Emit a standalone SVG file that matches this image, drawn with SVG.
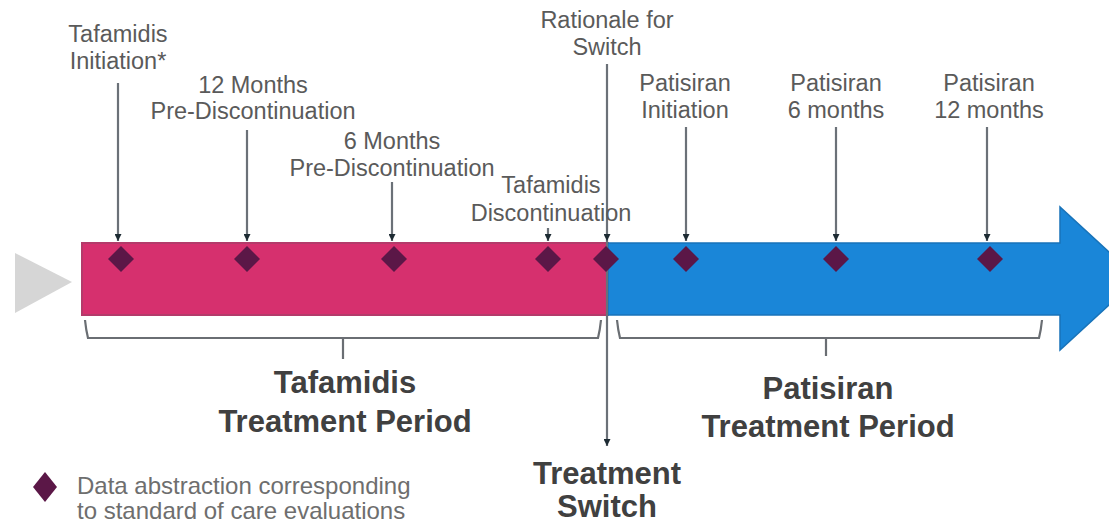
<svg xmlns="http://www.w3.org/2000/svg" width="1109" height="524" viewBox="0 0 1109 524">
<defs>
<style>
.lbl{font-family:"Liberation Sans",Arial,sans-serif;font-size:23.5px;fill:#5a5a5a;text-anchor:middle}
.big{font-family:"Liberation Sans",Arial,sans-serif;font-size:31px;font-weight:bold;fill:#404040;text-anchor:middle}
.leg{font-family:"Liberation Sans",Arial,sans-serif;font-size:24px;fill:#6e6e6e}
.pin{stroke:#6b7178;stroke-width:2.2;fill:none}
.br{stroke:#6a6e73;stroke-width:2.2;fill:none}
.dia{fill:#5b1747}
</style>
<marker id="ah" viewBox="0 0 10 10" refX="10" refY="5" markerWidth="7" markerHeight="7" markerUnits="userSpaceOnUse" orient="auto">
<path d="M0,0 L10,5 L0,10 Z" fill="#1d2b33"/>
</marker>
<path id="d" d="M0,-13 L13,0 L0,13 L-13,0 Z"/>
</defs>
<rect width="1109" height="524" fill="#ffffff"/>

<g id="start-triangle"><polygon points="15,253 72,282 15,313" fill="#d6d6d6"/></g>
<g id="tafamidis-bar"><rect x="82" y="243" width="526" height="72" fill="#d6306e" stroke="#b43a6a" stroke-width="2"/></g>
<g id="patisiran-arrow"><polygon points="608,243 1060,243 1060,207 1138,278.5 1060,350 1060,315 608,315" fill="#1a86d8" stroke="#1873b9" stroke-width="1.5"/></g>

<g id="connectors">
<line class="pin" x1="118" y1="83" x2="118" y2="241" marker-end="url(#ah)"/>
<line class="pin" x1="247" y1="130" x2="247" y2="241" marker-end="url(#ah)"/>
<line class="pin" x1="392" y1="182" x2="392" y2="241" marker-end="url(#ah)"/>
<line class="pin" x1="548" y1="228" x2="548" y2="241" marker-end="url(#ah)"/>
<line class="pin" x1="607" y1="64" x2="607" y2="241" marker-end="url(#ah)"/>
<line class="pin" x1="607" y1="241" x2="607" y2="446" marker-end="url(#ah)"/>
<line class="pin" x1="686" y1="127" x2="686" y2="241" marker-end="url(#ah)"/>
<line class="pin" x1="836" y1="127" x2="836" y2="241" marker-end="url(#ah)"/>
<line class="pin" x1="987" y1="127" x2="987" y2="241" marker-end="url(#ah)"/>
</g>

<g id="brackets">
<path class="br" d="M85,320 Q86,330 88,338 L598,338 Q600,330 601,320 M343,338 L343,359"/>
<path class="br" d="M617,320 Q618,330 620,338 L1039,338 Q1041,330 1042,320 M826,338 L826,356"/>
</g>

<g id="markers">
<use href="#d" class="dia" x="121" y="259"/>
<use href="#d" class="dia" x="247" y="259"/>
<use href="#d" class="dia" x="394" y="259"/>
<use href="#d" class="dia" x="548" y="259"/>
<use href="#d" class="dia" x="606" y="259"/>
<use href="#d" class="dia" x="686" y="259"/>
<use href="#d" class="dia" x="836" y="259"/>
<use href="#d" class="dia" x="990" y="259"/>
</g>

<g id="label-tafamidis-initiation"><text class="lbl" x="118" y="42">Tafamidis</text><text class="lbl" x="118" y="69">Initiation*</text></g>
<g id="label-12-months"><text class="lbl" x="253" y="93">12 Months</text><text class="lbl" x="253" y="119">Pre-Discontinuation</text></g>
<g id="label-6-months"><text class="lbl" x="392" y="149">6 Months</text><text class="lbl" x="392" y="176">Pre-Discontinuation</text></g>
<g id="label-tafamidis-discontinuation"><text class="lbl" x="551" y="193">Tafamidis</text><text class="lbl" x="551" y="221">Discontinuation</text></g>
<g id="label-rationale"><text class="lbl" x="607" y="28">Rationale for</text><text class="lbl" x="607" y="55">Switch</text></g>
<g id="label-patisiran-initiation"><text class="lbl" x="685" y="91">Patisiran</text><text class="lbl" x="685" y="118">Initiation</text></g>
<g id="label-patisiran-6"><text class="lbl" x="836" y="91">Patisiran</text><text class="lbl" x="836" y="118">6 months</text></g>
<g id="label-patisiran-12"><text class="lbl" x="989" y="91">Patisiran</text><text class="lbl" x="989" y="118">12 months</text></g>

<g id="label-tafamidis-period"><text class="big" x="345" y="393">Tafamidis</text><text class="big" x="345" y="432">Treatment Period</text></g>
<g id="label-patisiran-period"><text class="big" x="828" y="399">Patisiran</text><text class="big" x="828" y="437">Treatment Period</text></g>
<g id="label-treatment-switch"><text class="big" x="607" y="484">Treatment</text><text class="big" x="607" y="517">Switch</text></g>

<g id="legend">
<path d="M45,472 L57,487 L45,502 L33,487 Z" class="dia"/>
<text class="leg" x="77" y="494">Data abstraction corresponding</text>
<text class="leg" x="77" y="519">to standard of care evaluations</text>
</g>
</svg>
